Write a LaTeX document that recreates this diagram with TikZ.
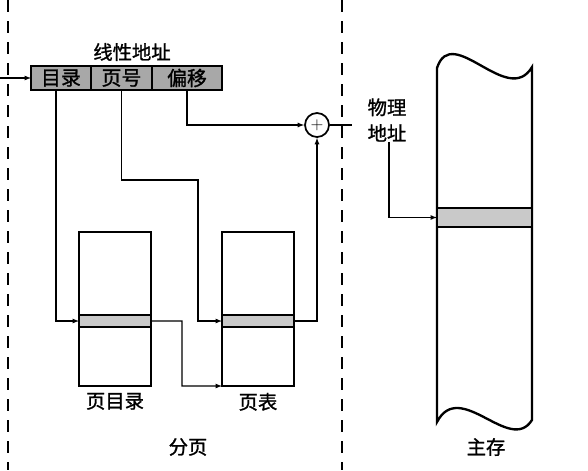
\documentclass[tikz,border=0pt]{standalone}
\usepackage{fontspec}
\newfontfamily\cjk[FakeBold=1.2]{Noto Sans CJK SC}
\usepackage{tikz}
\usetikzlibrary{arrows.meta,calc,positioning}

\begin{document}
\begin{tikzpicture}[x=0.03cm,y=-0.03cm,
    box/.style={draw=black,line width=2pt,minimum width=2.16cm,minimum height=4.62cm,inner sep=0pt,outer sep=0pt},
    band/.style={fill=gray!42,draw=black,line width=2pt,minimum width=2.16cm,minimum height=0.36cm,inner sep=0pt,outer sep=0pt},
    cell/.style={fill=gray!68,draw=black,line width=1.8pt,minimum height=0.72cm,inner sep=0pt,outer sep=0pt,font=\cjk\fontsize{17}{17}\selectfont},
    lbl/.style={font=\cjk\fontsize{16.5}{22}\selectfont,inner sep=0pt},
    conn/.style={line width=0.9pt},
    partline/.style={dash pattern=on 0.36cm off 0.27cm}]
        \useasboundingbox (0,0) rectangle (588,470);
        % dividing lines
        \draw[partline,line width=1.8pt] (8,0) -- (8,470);
        \draw[partline,line width=1.2pt] (342,0) -- (342,470);
        % linear address
        \node[cell,minimum width=1.8cm] (mulu) at (61,78) {目录};
        \node[cell,minimum width=1.83cm,right=0pt of mulu] (yehao) {页号};
        \node[cell,minimum width=2.1cm,right=0pt of yehao] (pianyi) {偏移};
        \node[lbl] (linaddr) at (132,52) {线性地址};
        \coordinate (in) at (0,78);
        \draw[conn,-latex] (in) -- (mulu.west);
        % page directory and page table
        \node[box] (pd) at (115,309) {};
        \node[band] (pdband) at (115,321) {};
        \node[box] (pt) at (258,309) {};
        \node[band] (ptband) at (258,321) {};
        \node[lbl,below=0.2cm of pd] (pdlbl) {页目录};
        \node[lbl,below=0.2cm of pt] (ptlbl) {页表};
        \node[lbl] (paging) at (188,447) {分页};
        % adder
        \node[draw,circle,line width=1.5pt,minimum size=0.72cm,inner sep=0pt,font=\Large] (adder) at (317,125) {+};
        \coordinate (out) at (352,125);
        \coordinate (turn1) at (198,180);
        \coordinate (turn2) at (182,386);
        \draw[conn,-latex] ([xshift=-0.15cm]mulu.south) |- (pdband.west);
        \draw[conn,-latex] (yehao.south) |- (turn1) |- (ptband.west);
        \draw[conn,-latex] (pianyi.south) |- (adder.west);
        \draw[conn,-latex] (pdband.east) -| (turn2) -- (pt.south west);
        \draw[conn,-latex] (ptband.east) -| (adder.south);
        \draw[conn] (adder.east) -- (out);
        % main memory
        \draw[line width=2pt] (437,68) .. controls (452,22) and (508,108) .. (532,67)
            -- (532,420) .. controls (510,455) and (460,378) .. (437,422) -- cycle;
        \node[band,minimum width=2.85cm,minimum height=0.57cm] (memband) at (484.5,217.5) {};
        \node[lbl,align=center] (paddr) at (387,120) {物理\\地址};
        \draw[conn,-latex] ([xshift=0.06cm]paddr.south) |- (memband.west);
        \node[lbl] (mem) at (486,447) {主存};
\end{tikzpicture}
\end{document}
